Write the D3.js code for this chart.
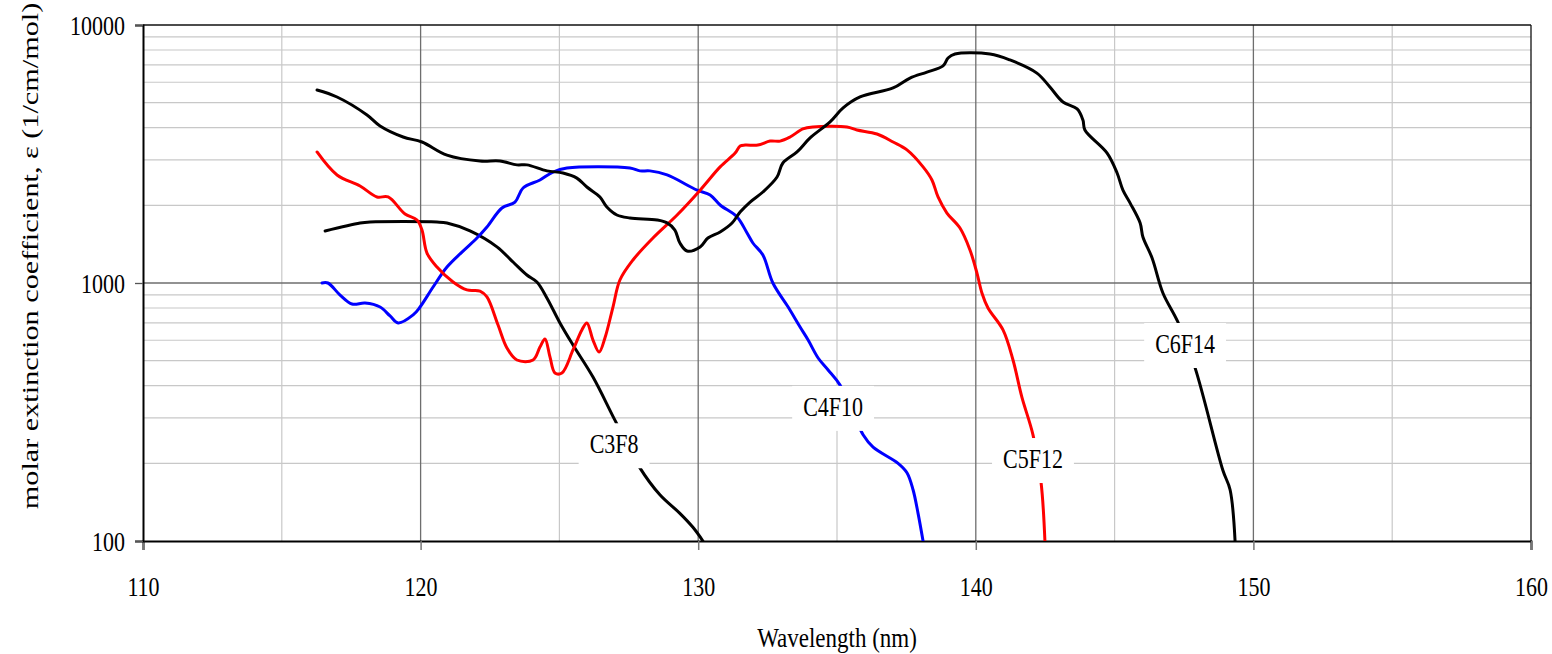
<!DOCTYPE html>
<html>
<head>
<meta charset="utf-8">
<script src="https://cdn.jsdelivr.net/npm/d3@7"></script>
<style>
  html, body { margin: 0; padding: 0; background: #fff; }
  svg { display: block; }
  text { font-family: "Liberation Serif", "Times New Roman", serif; fill: #000; }
</style>
</head>
<body>
<svg id="chart" width="1552" height="654"></svg>
<script>
// ---------- data ----------
const xTicks = [110, 120, 130, 140, 150, 160];
const yTicks = [100, 1000, 10000];
const xMinor = [115, 125, 135, 145, 155];
const yMinor = [200, 300, 400, 500, 600, 700, 800, 900, 2000, 3000, 4000, 5000, 6000, 7000, 8000, 9000];

const c3f8Wl  = [116.56,117.82,118.18,120.59,120.95,121.78,122.75,123.33,123.83,124.19,124.55,125.02,125.49,126.21,127.0,127.9,128.62,129.34,129.81,130.17];
const c3f8Val = [1591,1708,1723,1723,1708,1591,1380,1206,1074,1009,875,700,575,432,294,192,151,128,113,100];

const c4f10Wl  = [116.45,116.66,117.1,117.53,118.0,118.54,118.9,119.19,119.73,119.98,120.45,120.95,121.49,122.03,122.39,122.93,123.4,123.69,124.3,124.77,125.27,127.54,127.9,128.26,128.88,129.96,130.43,130.79,131.4,131.76,131.97,132.33,132.69,133.24,133.67,133.96,134.32,134.68,135.11,135.94,136.3,137.2,137.52,137.74,137.92,138.1];
const c4f10Val = [1000,1000,898,829,836,807,745,700,752,807,965,1153,1318,1494,1648,1953,2060,2335,2508,2692,2790,2790,2720,2720,2623,2290,2193,2006,1803,1562,1429,1284,1000,807,675,601,512,460,402,258,231,200,184,158,128,100];

const c5f12Wl  = [116.27,116.99,117.82,118.43,118.83,119.44,119.87,120.05,120.23,120.59,121.17,121.67,122.14,122.39,122.79,123.11,123.47,124.05,124.3,124.48,124.66,124.84,125.09,125.49,125.81,125.99,126.21,126.43,126.64,126.93,127.18,127.65,128.37,129.24,130.07,130.79,131.33,131.51,131.69,132.15,132.59,132.95,133.31,133.77,134.14,135.36,135.72,136.44,137.02,137.52,138.1,138.42,138.64,138.96,139.43,139.79,140.04,140.22,140.44,140.98,141.34,141.66,142.06,142.35,142.49];
const c5f12Val = [3220,2623,2377,2155,2155,1850,1755,1604,1306,1153,1009,940,931,883,687,560,503,503,565,607,517,448,448,550,658,700,601,540,612,807,1027,1228,1494,1835,2290,2818,3190,3396,3425,3425,3548,3548,3680,3954,4026,4026,3917,3780,3520,3279,2818,2508,2155,1867,1633,1343,1094,915,800,658,503,361,258,169,100];

const c6f14Wl  = [116.27,116.99,118.07,118.54,119.37,120.05,120.95,122.14,122.86,123.47,123.83,124.55,125.13,125.63,125.99,126.46,126.71,127.07,127.54,128.52,128.88,129.16,129.34,129.6,130.07,130.35,130.79,131.22,131.51,131.87,132.33,132.84,133.05,133.56,134.03,134.75,135.22,135.83,137.02,137.63,138.24,138.82,139.0,139.25,140.51,141.23,142.2,142.67,143.14,143.65,143.86,143.93,144.73,145.09,145.3,145.56,145.92,146.02,146.35,146.74,147.28,147.9,148.9,149.16,149.34];
const c6f14Val = [5600,5260,4480,4060,3680,3520,3130,2970,2970,2870,2870,2720,2670,2550,2355,2155,1970,1835,1787,1755,1710,1604,1429,1330,1380,1494,1577,1708,1884,2060,2253,2575,2918,3220,3650,4210,4770,5260,5700,6230,6570,6940,7450,7720,7720,7320,6510,5750,5030,4730,4280,3920,3190,2670,2290,2040,1708,1507,1250,915,706,469,188,158,100];

const seriesNames  = ["C3F8", "C4F10", "C5F12", "C6F14"];
const seriesColors = ["#000000", "#0000ff", "#ff0000", "#000000"];
const labelWl  = [126.97, 134.86, 142.06, 147.54];
const labelVal = [235, 328, 206, 575];

const xLabel = "Wavelength (nm)";
const yLabel = "molar extinction coefficient, \u03b5  (1/cm/mol)";

// ---------- layout ----------
const svg = d3.select("#chart");
const L = 143, R = 1531, T = 25, B = 541;
const x = d3.scaleLinear().domain([110, 160]).range([L, R]);
const y = d3.scaleLog().domain([100, 10000]).range([B, T]);
const SY = 1.2; // vertical stretch of glyphs in reference

// minor grid
svg.append("g").selectAll("line").data(yMinor).join("line")
  .attr("x1", L).attr("x2", R).attr("y1", d => y(d)).attr("y2", d => y(d))
  .attr("stroke", "#c8c8c8").attr("stroke-width", 1.2);
svg.append("g").selectAll("line").data(xMinor).join("line")
  .attr("y1", T).attr("y2", B).attr("x1", d => x(d)).attr("x2", d => x(d))
  .attr("stroke", "#c8c8c8").attr("stroke-width", 1.2);
// major grid
svg.append("g").selectAll("line").data(yTicks.slice(1, -1)).join("line")
  .attr("x1", L).attr("x2", R).attr("y1", d => y(d)).attr("y2", d => y(d))
  .attr("stroke", "#6e6e6e").attr("stroke-width", 1.3);
svg.append("g").selectAll("line").data(xTicks.slice(1, -1)).join("line")
  .attr("y1", T).attr("y2", B).attr("x1", d => x(d)).attr("x2", d => x(d))
  .attr("stroke", "#6e6e6e").attr("stroke-width", 1.3);

// plot border top / right
svg.append("line").attr("x1", L).attr("x2", R).attr("y1", T).attr("y2", T).attr("stroke", "#111").attr("stroke-width", 1.3);
svg.append("line").attr("x1", R).attr("x2", R).attr("y1", T).attr("y2", B).attr("stroke", "#111").attr("stroke-width", 1.3);

// axes
const xAxis = d3.axisBottom(x).tickValues(xTicks).tickSize(9).tickFormat(d3.format("d"));
const gx = svg.append("g").attr("transform", `translate(0,${B})`).call(xAxis);
gx.select(".domain").attr("stroke", "#000").attr("stroke-width", 2);
gx.selectAll(".tick line").attr("stroke", "#777").attr("stroke-width", 1.5);
gx.selectAll(".tick text").attr("y", 0).attr("dy", 0)
  .attr("transform", `translate(0,55) scale(1,${SY})`)
  .style("font-family", "Liberation Serif").style("font-size", "22px");

const yAxis = d3.axisLeft(y).tickValues(yTicks).tickSize(8).tickFormat(d3.format("d"));
const gy = svg.append("g").attr("transform", `translate(${L},0)`).call(yAxis);
gy.select(".domain").attr("stroke", "#000").attr("stroke-width", 2);
gy.selectAll(".tick line").attr("stroke", "#555").attr("stroke-width", 1.3);
gy.selectAll(".tick text").attr("x", 0).attr("dy", 0)
  .attr("transform", `translate(-18,9) scale(1,${SY})`)
  .style("font-family", "Liberation Serif").style("font-size", "22px");

// clip
svg.append("clipPath").attr("id", "plotclip").append("rect")
  .attr("x", L).attr("y", T - 2).attr("width", R - L).attr("height", B - T + 2);

const allWl = [c3f8Wl, c4f10Wl, c5f12Wl, c6f14Wl];
const allVal = [c3f8Val, c4f10Val, c5f12Val, c6f14Val];

const line = d3.line().x(d => x(d[0])).y(d => y(d[1])).curve(d3.curveCatmullRom.alpha(0.5));
const gLines = svg.append("g").attr("clip-path", "url(#plotclip)");
seriesNames.forEach((name, i) => {
  const pts = allWl[i].map((w, j) => [w, allVal[i][j]]);
  gLines.append("path").datum(pts)
    .attr("d", line).attr("fill", "none")
    .attr("stroke", seriesColors[i]).attr("stroke-width", 3)
    .attr("stroke-linejoin", "round").attr("stroke-linecap", "round");
});

// series labels with white boxes
const gLab = svg.append("g");
seriesNames.forEach((name, i) => {
  const cx = x(labelWl[i]), cy = y(labelVal[i]);
  const g = gLab.append("g");
  const t = g.append("text").text(name)
    .attr("text-anchor", "middle")
    .attr("transform", `translate(${cx},${cy + 8}) scale(1,${SY})`)
    .style("font-size", "22px");
  const w = t.node().getComputedTextLength();
  g.insert("rect", "text")
    .attr("x", cx - w / 2 - 11).attr("y", cy - 22)
    .attr("width", w + 22).attr("height", 45)
    .attr("fill", "#fff");
});

// axis titles
svg.append("text").text(xLabel)
  .attr("text-anchor", "middle")
  .attr("transform", `translate(${(L + R) / 2},647) scale(1,${SY})`)
  .style("font-size", "23px");
svg.append("text").text(yLabel)
  .attr("text-anchor", "middle")
  .attr("transform", `translate(38,256) rotate(-90) scale(1.26,1)`)
  .style("font-size", "24px");
</script>
</body>
</html>
